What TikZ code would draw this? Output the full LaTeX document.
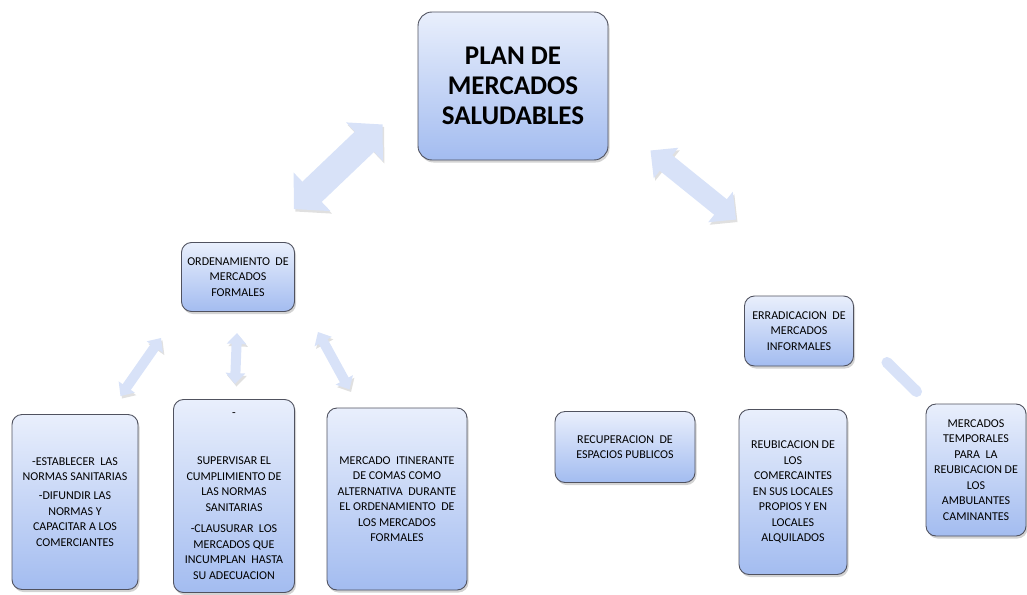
\documentclass[tikz,border=0pt]{standalone}
\usepackage{fontspec}
\setmainfont{Carlito}
\usepackage{xcolor}
\usepackage{tikz}
\usetikzlibrary{arrows.meta, positioning, shadows}

\definecolor{boxtop}{RGB}{233,239,252}
\definecolor{boxbot}{RGB}{163,188,240}
\definecolor{boxline}{RGB}{80,82,95}
\definecolor{arrowblue}{RGB}{216,226,248}

\begin{document}
\begin{tikzpicture}[
        x=1pt, y=-1pt,
        box/.style={rectangle, rounded corners=10pt, draw=boxline, line width=0.9pt,
            top color=boxtop, bottom color=boxbot, align=center, inner sep=2pt,
            drop shadow={shadow xshift=1.5pt, shadow yshift=-2.5pt, opacity=0.35},
            font=\fontsize{12}{15.5}\selectfont},
        arrowshadow/.style={preaction={draw=black!12, transform canvas={shift={(1.5pt,-2.5pt)}}}},
        bigarrow/.style={draw=arrowblue, line width=28pt, arrowshadow,
            {Triangle[length=25pt, width=52pt]}-{Triangle[length=25pt, width=52pt]}},
        midarrow/.style={draw=arrowblue, line width=20pt, arrowshadow,
            {Triangle[length=20pt, width=38pt]}-{Triangle[length=20pt, width=38pt]}},
        smallarrow/.style={draw=arrowblue, line width=10pt, arrowshadow,
            {Triangle[length=11pt, width=19pt]}-{Triangle[length=11pt, width=19pt]}},
        bar/.style={draw=arrowblue, line width=11pt, line cap=round, arrowshadow}
    ]
        \useasboundingbox (0,0) rectangle (1027,594);

        % Nodes
        \node[box, rounded corners=14pt, minimum width=190pt, minimum height=148pt,
            font=\fontsize{27}{30}\selectfont\bfseries] (plan) at (513,86)
            {PLAN\ DE\\MERCADOS\\SALUDABLES};
        \node[box, minimum width=113pt, minimum height=69pt] (orden) at (238,277)
            {ORDENAMIENTO\ \ DE\\MERCADOS\\FORMALES};
        \node[box, minimum width=109pt, minimum height=70pt] (errad) at (799,331)
            {ERRADICACION\ \ DE\\MERCADOS\\INFORMALES};
        \node[box, minimum width=126pt, minimum height=175pt] (normas) at (75,502)
            {-ESTABLECER\ \ LAS\\NORMAS SANITARIAS\\[3.5pt]-DIFUNDIR LAS\\NORMAS Y\\CAPACITAR A LOS\\COMERCIANTES};
        \node[box, minimum width=121pt, minimum height=193pt] (supervisar) at (234,496)
            {-\\[33pt]SUPERVISAR EL\\CUMPLIMIENTO DE\\LAS NORMAS\\SANITARIAS\\[6pt]-CLAUSURAR\ \ LOS\\MERCADOS QUE\\INCUMPLAN\ \ HASTA\\SU ADECUACION};
        \node[box, minimum width=140pt, minimum height=182pt] (itinerante) at (397,499)
            {MERCADO\ \ ITINERANTE\\DE COMAS COMO\\ALTERNATIVA\ \ DURANTE\\EL ORDENAMIENTO\ \ DE\\LOS MERCADOS\\FORMALES};
        \node[box, minimum width=140pt, minimum height=71pt] (recup) at (625,447)
            {RECUPERACION\ \ DE\\ESPACIOS PUBLICOS};
        \node[box, minimum width=108pt, minimum height=165pt] (reubic) at (793,492)
            {REUBICACION DE\\LOS\\COMERCAINTES\\EN SUS LOCALES\\PROPIOS Y EN\\LOCALES\\ALQUILADOS};
        \node[box, minimum width=100pt, minimum height=132pt] (temporal) at (976,470)
            {MERCADOS\\TEMPORALES\\PARA\ \ LA\\REUBICACION DE\\LOS\\AMBULANTES\\CAMINANTES};

        % Arrows
        \draw[bigarrow] ([shift={(-1,-33)}]orden.north east) -- ([shift={(-35,-36)}]plan.south west);
        \draw[midarrow] ([shift={(42,-10)}]plan.south east) -- ([shift={(-8,-76)}]errad.north west);
        \draw[smallarrow] ([shift={(-20,26)}]orden.south west) -- ([shift={(-18,-18)}]normas.north east);
        \draw[smallarrow] ([shift={(-1,21)}]orden.south) -- ([shift={(1,-15)}]supervisar.north);
        \draw[smallarrow] ([shift={(23,20)}]orden.south east) -- ([shift={(23,-18)}]itinerante.north west);
        \draw[bar] ([shift={(33,-4)}]errad.south east) -- ([shift={(-9,-12)}]temporal.north west);
    \end{tikzpicture}
\end{document}
